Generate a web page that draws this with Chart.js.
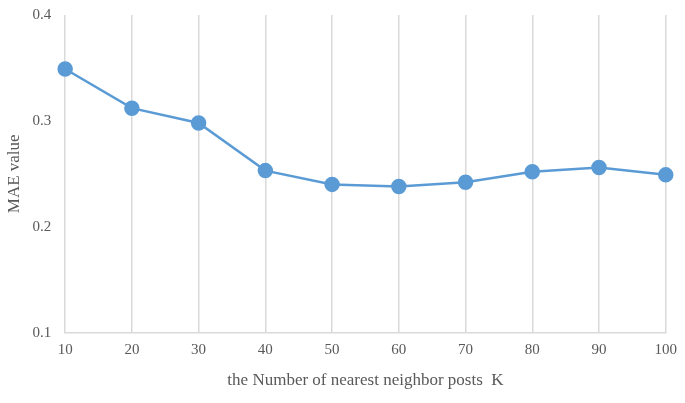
<!DOCTYPE html>
<html><head><meta charset="utf-8">
<script src="https://cdn.jsdelivr.net/npm/chart.js@4"></script>
<style>html,body{margin:0;padding:0;background:#fff}#w{width:685px;height:403px}</style>
</head><body><div id="w"><canvas id="c"></canvas></div>
<script>
const kValues = [10,20,30,40,50,60,70,80,90,100];
const maeValues = [0.349,0.312,0.298,0.253,0.240,0.238,0.242,0.252,0.256,0.249];
const yTicks = [0.1,0.2,0.3,0.4];
const font = {family:'"Liberation Serif", "Times New Roman", serif', size:15};
new Chart(document.getElementById('c'), {
  type:'line',
  data:{datasets:[{data:kValues.map((k,i)=>({x:k,y:maeValues[i]})),
    borderColor:'#5b9bd5',backgroundColor:'#5b9bd5',borderWidth:2.5,clip:false,
    pointRadius:6.5,pointHoverRadius:6.5,tension:0}]},
  options:{responsive:true,maintainAspectRatio:false,animation:false,
    layout:{padding:{top:0,right:4,left:0,bottom:8}},
    plugins:{legend:{display:false},tooltip:{enabled:false}},
    scales:{
      x:{type:'linear',min:10,max:100,
        afterBuildTicks:a=>{a.ticks=kValues.map(v=>({value:v}));},
        grid:{color:'#d9d9d9',lineWidth:1.5,drawTicks:false},
        border:{display:true,color:'#d9d9d9',width:1.5},
        ticks:{font,color:'#595959',padding:8},
        title:{display:true,text:'the Number of nearest neighbor posts  K',font:{...font,size:17},color:'#595959',padding:{top:4}}},
      y:{min:0.1,max:0.4,
        afterBuildTicks:a=>{a.ticks=yTicks.map(v=>({value:v}));},
        grid:{display:false},border:{display:false},
        ticks:{font,color:'#595959',padding:6,callback:v=>v.toFixed(1)},
        title:{display:true,text:'MAE value',font:{...font,size:17},color:'#595959',padding:{bottom:2}}}
    }}
});
</script></body></html>
